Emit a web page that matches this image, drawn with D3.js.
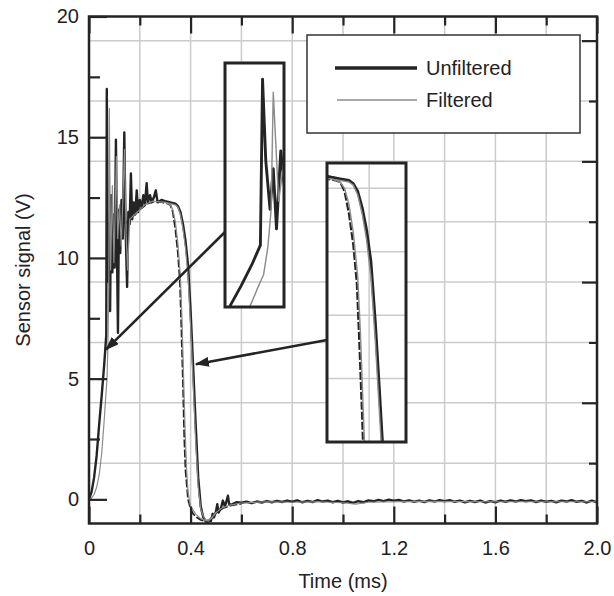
<!DOCTYPE html>
<html>
<head>
<meta charset="utf-8">
<script src="https://cdn.jsdelivr.net/npm/d3@7"></script>
<style>
  body { margin: 0; background: #fff; }
  text { font-family: "Liberation Sans", Arial, sans-serif; fill: #222; }
</style>
</head>
<body>
<svg width="614" height="596"></svg>
<script>
// time (ms), sensor signal (V)
var unfilteredA = [
  [0.000, 0.0], [0.010, 0.3], [0.020, 0.9], [0.030, 1.8], [0.040, 3.1], [0.050, 4.3],
  [0.060, 5.6], [0.068, 6.8], [0.070, 17.0], [0.073, 12.0], [0.077, 9.0], [0.080, 11.5],
  [0.083, 7.8], [0.087, 12.6], [0.092, 9.4], [0.097, 11.8], [0.101, 9.6], [0.106, 14.9],
  [0.110, 10.4], [0.114, 6.9], [0.118, 12.0], [0.123, 10.2], [0.128, 12.4], [0.133, 10.8],
  [0.139, 15.2], [0.144, 11.2], [0.150, 8.8], [0.155, 11.9], [0.160, 11.4], [0.165, 13.5],
  [0.170, 11.6], [0.176, 12.3], [0.182, 11.8], [0.188, 12.8], [0.193, 11.9], [0.200, 12.4],
  [0.207, 12.1], [0.214, 12.6], [0.220, 12.2], [0.227, 13.1], [0.232, 12.3], [0.240, 12.6],
  [0.247, 12.3], [0.255, 12.5], [0.263, 12.8], [0.270, 12.3], [0.285, 12.4], [0.300, 12.35],
  [0.320, 12.3], [0.340, 12.25], [0.350, 12.15], [0.360, 11.9], [0.370, 11.4], [0.380, 10.7],
  [0.390, 9.7], [0.400, 7.8], [0.410, 5.5], [0.420, 3.1], [0.430, 0.9], [0.440, -0.3],
  [0.450, -0.75], [0.460, -0.92], [0.469, -0.98], [0.475, -0.85], [0.480, -0.9], [0.487, -0.6],
  [0.492, -0.75], [0.500, -0.5], [0.505, -0.2], [0.510, -0.55], [0.520, -0.35], [0.527, -0.05],
  [0.535, -0.3], [0.547, 0.15], [0.552, -0.22], [0.565, -0.2], [0.580, -0.12],
  [0.60, -0.14], [0.62, -0.10], [0.64, -0.16], [0.66, -0.09], [0.68, -0.13], [0.70, -0.07],
  [0.72, -0.12], [0.74, -0.06], [0.76, -0.11], [0.78, -0.05], [0.80, -0.10], [0.82, -0.04],
  [0.84, -0.12], [0.86, -0.06], [0.88, -0.11], [0.90, -0.03], [0.92, -0.09], [0.94, -0.05],
  [0.96, -0.12], [0.98, -0.06], [1.00, -0.13], [1.02, -0.08], [1.04, -0.15], [1.06, -0.07],
  [1.08, -0.12], [1.10, -0.04], [1.12, -0.08], [1.14, -0.02], [1.16, -0.07], [1.18, -0.01],
  [1.20, -0.05], [1.22, -0.02], [1.24, -0.09], [1.26, -0.04], [1.28, -0.10], [1.30, -0.05],
  [1.32, -0.11], [1.34, -0.04], [1.36, -0.09], [1.38, -0.03], [1.40, -0.08], [1.42, -0.03],
  [1.44, -0.10], [1.46, -0.05], [1.48, -0.12], [1.50, -0.06], [1.52, -0.11], [1.54, -0.05],
  [1.56, -0.13], [1.58, -0.07], [1.60, -0.12], [1.62, -0.05], [1.64, -0.10], [1.66, -0.04],
  [1.68, -0.09], [1.70, -0.03], [1.72, -0.08], [1.74, -0.04], [1.76, -0.11], [1.78, -0.05],
  [1.80, -0.10], [1.82, -0.06], [1.84, -0.12], [1.86, -0.05], [1.88, -0.09], [1.90, -0.03],
  [1.92, -0.10], [1.94, -0.06], [1.96, -0.13], [1.98, -0.05], [2.00, -0.12]
];

var filteredA = [
  [0.000, 0.0], [0.010, 0.05], [0.020, 0.2], [0.030, 0.5], [0.040, 1.0], [0.050, 1.9],
  [0.055, 2.6], [0.060, 3.3], [0.065, 4.1], [0.071, 5.0], [0.075, 6.7], [0.078, 9.0],
  [0.080, 16.2], [0.085, 9.5], [0.092, 13.0], [0.098, 9.8], [0.108, 14.2], [0.113, 10.8],
  [0.120, 12.2], [0.127, 10.5], [0.140, 14.5], [0.146, 11.0], [0.152, 9.5], [0.160, 11.6],
  [0.170, 11.7], [0.180, 11.8], [0.200, 12.0], [0.220, 12.2], [0.250, 12.35], [0.300, 12.3],
  [0.340, 12.2], [0.350, 12.1], [0.360, 11.8], [0.370, 11.2], [0.380, 10.4], [0.390, 9.2],
  [0.400, 7.2], [0.410, 4.8], [0.420, 2.4], [0.430, 0.5], [0.440, -0.4], [0.450, -0.7],
  [0.460, -0.85], [0.470, -0.9], [0.480, -0.8], [0.500, -0.55], [0.520, -0.38], [0.550, -0.25],
  [0.600, -0.15], [0.700, -0.1], [0.800, -0.12], [0.900, -0.1], [1.000, -0.14], [1.050, -0.2],
  [1.100, -0.12], [1.300, -0.08], [1.600, -0.1], [2.000, -0.1]
];

var unfilteredB = [
  [0.140, 11.4], [0.170, 11.7], [0.200, 12.0], [0.230, 12.25], [0.260, 12.35], [0.290, 12.3],
  [0.310, 12.25], [0.320, 12.2], [0.330, 11.9], [0.340, 11.2], [0.350, 10.2], [0.358, 9.0],
  [0.364, 7.0], [0.370, 4.8], [0.375, 2.6], [0.380, 1.2], [0.390, 0.0], [0.400, -0.4],
  [0.410, -0.6], [0.425, -0.75], [0.440, -0.85], [0.455, -0.9], [0.470, -0.92], [0.480, -0.8],
  [0.500, -0.55], [0.530, -0.35], [0.560, -0.25], [0.600, -0.18]
];

var filteredB = [
  [0.300, 12.3], [0.320, 12.2], [0.330, 12.0], [0.340, 11.5], [0.350, 10.6], [0.360, 9.2],
  [0.366, 7.5], [0.372, 5.2], [0.378, 3.0], [0.384, 1.3], [0.390, 0.3], [0.400, -0.3],
  [0.420, -0.6], [0.440, -0.8], [0.460, -0.88], [0.480, -0.8], [0.500, -0.55]
];

var xMajor = [0, 0.4, 0.8, 1.2, 1.6, 2.0];
var xMinor = [0.2, 0.6, 1.0, 1.4, 1.8];
var yMajor = [0, 5, 10, 15, 20];
var yMinor = [2.5, 7.5, 12.5, 17.5];
var rightMajor = [4, 9, 14, 19];
var rightMinor = [1.5, 6.5, 11.5, 16.5];
var gridX = [0.2, 0.4, 0.6, 0.8, 1.0, 1.2, 1.4, 1.6, 1.8];
var gridY = [1.5, 4, 6.5, 9, 11.5, 14, 16.5, 19];
var legendLabels = ['Unfiltered', 'Filtered'];

var svg = d3.select('svg');
var pLeft = 89, pRight = 597, pTop = 16.5, pBottom = 523.5;

var x = d3.scaleLinear().domain([0, 2]).range([pLeft, pRight]);
var y = d3.scaleLinear().domain([-1, 20]).range([pBottom, pTop]);

var DARK = '#242424', GRAY = '#8c8c8c', GRID = '#cbcbcb';

// grid
svg.append('g').selectAll('line').data(gridX).enter().append('line')
  .attr('x1', function(d) { return x(d); }).attr('x2', function(d) { return x(d); })
  .attr('y1', pTop).attr('y2', pBottom)
  .attr('stroke', GRID).attr('stroke-width', 1.5);
svg.append('g').selectAll('line').data(gridY).enter().append('line')
  .attr('x1', pLeft).attr('x2', pRight)
  .attr('y1', function(d) { return y(d); }).attr('y2', function(d) { return y(d); })
  .attr('stroke', GRID).attr('stroke-width', 1.5);

var defs = svg.append('defs');
defs.append('clipPath').attr('id', 'plotclip').append('rect')
  .attr('x', pLeft).attr('y', pTop).attr('width', pRight - pLeft).attr('height', pBottom - pTop);

var series = [
  { data: unfilteredB, color: DARK, width: 1.8, dash: '8 2' },
  { data: unfilteredA, color: DARK, width: 2.4, dash: null },
  { data: filteredB, color: GRAY, width: 1.2, dash: null },
  { data: filteredA, color: GRAY, width: 1.2, dash: null }
];

function drawSeries(g, sx, sy, widthScale) {
  var line = d3.line().x(function(d) { return sx(d[0]); }).y(function(d) { return sy(d[1]); });
  g.selectAll('path.trace').data(series).enter().append('path')
    .attr('class', 'trace')
    .attr('d', function(s) { return line(s.data); })
    .attr('fill', 'none')
    .attr('stroke', function(s) { return s.color; })
    .attr('stroke-width', function(s) { return s.width * widthScale; })
    .attr('stroke-dasharray', function(s) { return s.dash; })
    .attr('stroke-linejoin', 'round');
}

drawSeries(svg.append('g').attr('clip-path', 'url(#plotclip)'), x, y, 1);

// insets (zoomed views of the same traces)
var insets = [
  { id: 'in1', x0: 225, y0: 63, w: 59, h: 244, t: [0.035, 0.09], v: [3, 18],
    gridT: [], gridV: null },
  { id: 'in2', x0: 327, y0: 163, w: 79, h: 279, t: [0.29, 0.47], v: [4, 12.8],
    gridT: [0.386], gridV: [6, 8, 10, 12] }
];

insets.forEach(function(ins) {
  var sx = d3.scaleLinear().domain(ins.t).range([ins.x0, ins.x0 + ins.w]);
  var sy = d3.scaleLinear().domain(ins.v).range([ins.y0 + ins.h, ins.y0]);
  defs.append('clipPath').attr('id', ins.id).append('rect')
    .attr('x', ins.x0).attr('y', ins.y0).attr('width', ins.w).attr('height', ins.h);
  var g = svg.append('g');
  g.append('rect').attr('x', ins.x0).attr('y', ins.y0).attr('width', ins.w).attr('height', ins.h)
    .attr('fill', '#fff');
  var inner = g.append('g').attr('clip-path', 'url(#' + ins.id + ')');
  // horizontal grid: inset 1 shows the main grid, inset 2 its own
  var hLines = ins.gridV ? ins.gridV.map(sy) : gridY.map(y);
  inner.selectAll('line.h').data(hLines).enter().append('line').attr('class', 'h')
    .attr('x1', ins.x0).attr('x2', ins.x0 + ins.w)
    .attr('y1', function(d) { return d; }).attr('y2', function(d) { return d; })
    .attr('stroke', GRID).attr('stroke-width', 1.5);
  inner.selectAll('line.v').data(ins.gridT).enter().append('line').attr('class', 'v')
    .attr('x1', function(d) { return sx(d); }).attr('x2', function(d) { return sx(d); })
    .attr('y1', ins.y0).attr('y2', ins.y0 + ins.h)
    .attr('stroke', GRID).attr('stroke-width', 1.5);
  drawSeries(inner, sx, sy, 1.2);
  g.append('rect').attr('x', ins.x0).attr('y', ins.y0).attr('width', ins.w).attr('height', ins.h)
    .attr('fill', 'none').attr('stroke', DARK).attr('stroke-width', 3);
});

// arrows from insets to the traces
defs.append('marker').attr('id', 'arrow')
  .attr('viewBox', '0 0 14 10').attr('refX', 13).attr('refY', 5)
  .attr('markerWidth', 14).attr('markerHeight', 10)
  .attr('markerUnits', 'userSpaceOnUse').attr('orient', 'auto')
  .append('path').attr('d', 'M0,0L14,5L0,10Z').attr('fill', DARK);

var arrows = [
  { from: [225, 232], to: [0.067, 6.2] },
  { from: [327, 340], to: [0.421, 5.6] }
];
svg.append('g').selectAll('line').data(arrows).enter().append('line')
  .attr('x1', function(d) { return d.from[0]; }).attr('y1', function(d) { return d.from[1]; })
  .attr('x2', function(d) { return x(d.to[0]); }).attr('y2', function(d) { return y(d.to[1]); })
  .attr('stroke', DARK).attr('stroke-width', 2.6)
  .attr('marker-end', 'url(#arrow)');

// legend
var lg = svg.append('g');
lg.append('rect').attr('x', 307).attr('y', 35).attr('width', 273).attr('height', 98)
  .attr('fill', '#fff').attr('stroke', '#333').attr('stroke-width', 1.5);
var legendItems = lg.selectAll('g.item').data(legendLabels).enter().append('g')
  .attr('class', 'item')
  .attr('transform', function(d, i) { return 'translate(0,' + (68 + i * 32) + ')'; });
legendItems.append('line')
  .attr('x1', function(d, i) { return i === 0 ? 335 : 337; }).attr('x2', 417)
  .attr('stroke', function(d, i) { return i === 0 ? DARK : '#555'; })
  .attr('stroke-width', function(d, i) { return i === 0 ? 3.5 : 1.2; });
legendItems.append('text').attr('x', 426).attr('dy', '0.35em')
  .style('font-size', '20px').text(function(d) { return d; });

// frame
svg.append('rect').attr('x', pLeft).attr('y', pTop)
  .attr('width', pRight - pLeft).attr('height', pBottom - pTop)
  .attr('fill', 'none').attr('stroke', DARK).attr('stroke-width', 2.5);

// axes, ticks pointing inwards
function styleAxis(g) {
  g.select('.domain').remove();
  g.selectAll('.tick line').attr('stroke', DARK).attr('stroke-width', 2.2);
  g.selectAll('.tick text').style('font-size', '20px').attr('fill', '#222');
}
var xFmt = function(d) { return d === 0 ? '0' : d.toFixed(1); };

svg.append('g').attr('transform', 'translate(0,' + pBottom + ')')
  .call(d3.axisBottom(x).tickValues(xMajor).tickSize(-17).tickPadding(17).tickFormat(xFmt))
  .call(styleAxis);
svg.append('g').attr('transform', 'translate(0,' + pBottom + ')')
  .call(d3.axisBottom(x).tickValues(xMinor).tickSize(-9).tickFormat(''))
  .call(styleAxis);
svg.append('g').attr('transform', 'translate(0,' + pTop + ')')
  .call(d3.axisTop(x).tickValues(xMajor).tickSize(-17).tickFormat(''))
  .call(styleAxis);
svg.append('g').attr('transform', 'translate(0,' + pTop + ')')
  .call(d3.axisTop(x).tickValues(xMinor).tickSize(-9).tickFormat(''))
  .call(styleAxis);
svg.append('g').attr('transform', 'translate(' + pLeft + ',0)')
  .call(d3.axisLeft(y).tickValues(yMajor).tickSize(-18).tickPadding(10))
  .call(styleAxis);
svg.append('g').attr('transform', 'translate(' + pLeft + ',0)')
  .call(d3.axisLeft(y).tickValues(yMinor).tickSize(-11).tickFormat(''))
  .call(styleAxis);
svg.append('g').attr('transform', 'translate(' + pRight + ',0)')
  .call(d3.axisRight(y).tickValues(rightMajor).tickSize(-15).tickFormat(''))
  .call(styleAxis);
svg.append('g').attr('transform', 'translate(' + pRight + ',0)')
  .call(d3.axisRight(y).tickValues(rightMinor).tickSize(-8).tickFormat(''))
  .call(styleAxis);

// axis titles
svg.append('text').attr('x', (pLeft + pRight) / 2).attr('y', 588)
  .attr('text-anchor', 'middle').style('font-size', '20px').text('Time (ms)');
svg.append('text').attr('transform', 'translate(30,' + (pTop + pBottom) / 2 + ') rotate(-90)')
  .attr('text-anchor', 'middle').style('font-size', '20px').text('Sensor signal (V)');
</script>
</body>
</html>
